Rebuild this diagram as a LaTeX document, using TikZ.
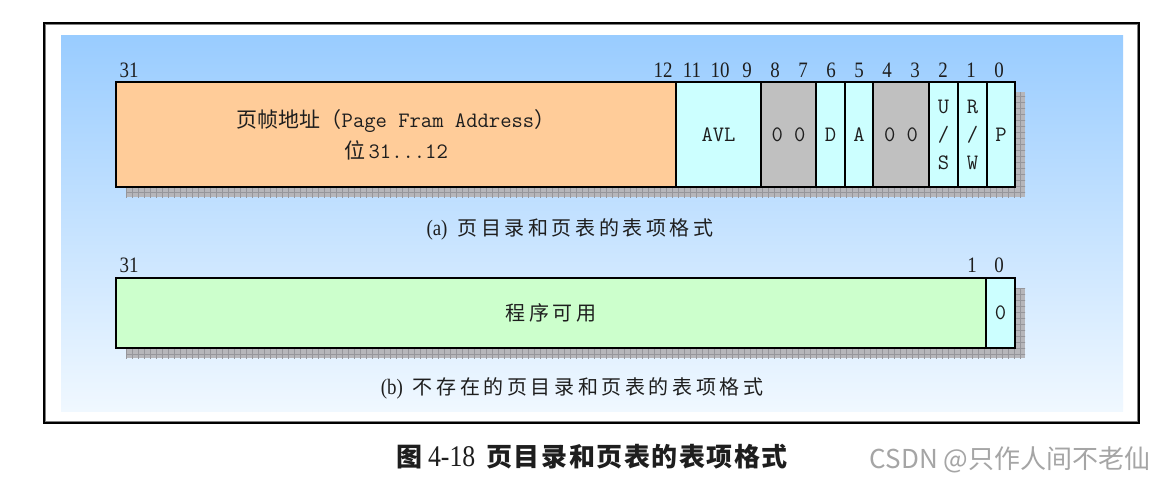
\documentclass[tikz,border=0pt]{standalone}
\usepackage{fontspec}
\newfontfamily\cjk{Noto Sans CJK SC}
\newfontfamily\cjkls[LetterSpace=18]{Noto Sans CJK SC}
\newfontfamily\cjktitle[LetterSpace=6]{Noto Sans CJK SC}
\newfontfamily\numfont[FakeStretch=0.86]{Liberation Serif}
\definecolor{bgtop}{RGB}{153,204,255}
\definecolor{bgbot}{RGB}{240,248,255}
\definecolor{orangecell}{RGB}{255,204,153}
\definecolor{cyancell}{RGB}{204,255,255}
\definecolor{graycell}{RGB}{192,192,192}
\definecolor{greencell}{RGB}{204,255,204}
\definecolor{shadowfill}{RGB}{182,182,186}
\definecolor{shadowline}{RGB}{150,150,155}
\definecolor{inktext}{RGB}{30,30,30}
\definecolor{wmark}{RGB}{165,165,165}
\tikzset{
  cellbase/.style={draw=black, line width=1.5pt, inner sep=0pt, outer sep=0pt, anchor=center, text=inktext},
  orangebox/.style={cellbase, fill=orangecell},
  cyanbox/.style={cellbase, fill=cyancell},
  graybox/.style={cellbase, fill=graycell},
  greenbox/.style={cellbase, fill=greencell},
  bitlabel/.style={inner sep=0pt, text=inktext, font=\fontsize{22}{22}\selectfont\numfont},
  celltext/.style={font=\fontsize{22}{28}\selectfont\ttfamily},
  captiontext/.style={inner sep=0pt, text=inktext, font=\fontsize{20}{20}\selectfont},
  shadowgrid/.style={draw=shadowline, line width=0.4pt},
}
\begin{document}
\begin{tikzpicture}[x=1pt,y=-1pt]
\useasboundingbox (0,0) rectangle (1168,483);
\fill[white] (0,0) rectangle (1168,483);
% outer frame
\draw[line width=1.2pt, gray] (45.5,24.5) rectangle (1137.5,421.5);
\draw[line width=2pt, black] (44,23) rectangle (1139,423);
% gradient background
\shade[top color=bgtop, bottom color=bgbot] (61,35) rectangle (1123,411);

% ---------- row (a) ----------
\fill[shadowfill] (126,92) rectangle (1025,197);
\begin{scope}
  \clip (126,92) rectangle (1025,197);
  \draw[shadowgrid, step=6pt] (120,86) grid (1030,200);
\end{scope}
\node[orangebox, minimum width=560pt, minimum height=105pt, align=center,
      font=\fontsize{21}{31}\selectfont] (pfa) at (396,134.5)
  {{\cjk 页帧地址（}{\fontsize{22}{31}\selectfont\ttfamily Page Fram Address}{\cjk ）}\\{\cjk 位}\,{\fontsize{22}{31}\selectfont\ttfamily 31...12}};
\node[cyanbox, minimum width=85pt, minimum height=105pt, celltext] (avl) at (718.5,134.5) {AVL};
\node[graybox, minimum width=55pt, minimum height=105pt, celltext] (r87) at (788.5,134.5) {0 0};
\node[cyanbox, minimum width=29pt, minimum height=105pt, celltext] (dbit) at (830.5,134.5) {D};
\node[cyanbox, minimum width=28pt, minimum height=105pt, celltext] (abit) at (859,134.5) {A};
\node[graybox, minimum width=56pt, minimum height=105pt, celltext] (r43) at (901,134.5) {0 0};
\node[cyanbox, minimum width=29pt, minimum height=105pt, celltext, align=center] (usbit) at (943.5,134.5) {U\\/\\S};
\node[cyanbox, minimum width=29pt, minimum height=105pt, celltext, align=center] (rwbit) at (972.5,134.5) {R\\/\\W};
\node[cyanbox, minimum width=28pt, minimum height=105pt, celltext] (pbit) at (1001,134.5) {P};

% bit numbers (a)
\node[bitlabel] (la31) at (129,70) {31};
\node[bitlabel] (la12) at (663,70) {12};
\node[bitlabel] (la11) at (692,70) {11};
\node[bitlabel] (la10) at (720,70) {10};
\node[bitlabel] (la9) at (747,70) {9};
\node[bitlabel] (la8) at (775,70) {8};
\node[bitlabel] (la7) at (803,70) {7};
\node[bitlabel] (la6) at (831,70) {6};
\node[bitlabel] (la5) at (859,70) {5};
\node[bitlabel] (la4) at (887,70) {4};
\node[bitlabel] (la3) at (915,70) {3};
\node[bitlabel] (la2) at (943,70) {2};
\node[bitlabel] (la1) at (971,70) {1};
\node[bitlabel] (la0) at (999,70) {0};

\node[captiontext] (capa) at (570,229) {{\fontsize{22}{22}\selectfont\numfont (a)}\hspace{10pt}{\cjkls 页目录和页表的表项格式}};

% ---------- row (b) ----------
\fill[shadowfill] (126,288) rectangle (1025,358);
\begin{scope}
  \clip (126,288) rectangle (1025,358);
  \draw[shadowgrid, step=6pt] (120,282) grid (1030,362);
\end{scope}
\node[greenbox, minimum width=870pt, minimum height=70pt,
      font=\fontsize{20}{20}\selectfont] (prog) at (551,313) {{\cjkls 程序可用}};
\node[cyanbox, minimum width=29pt, minimum height=70pt, celltext] (p0) at (1000.5,313) {0};

\node[bitlabel] (lb31) at (129,265) {31};
\node[bitlabel] (lb1) at (972,265) {1};
\node[bitlabel] (lb0) at (999,265) {0};

\node[captiontext] (capb) at (572,388) {{\fontsize{22}{22}\selectfont\numfont (b)}\hspace{10pt}{\cjkls 不存在的页目录和页表的表项格式}};

% ---------- title & watermark ----------
\node[inner sep=0pt, text=inktext, font=\fontsize{26}{26}\selectfont] (title) at (592,457)
  {{\cjk\bfseries 图}\hspace{6pt}{\fontsize{30}{30}\selectfont\numfont 4-18}\hspace{11pt}{\cjktitle\bfseries 页目录和页表的表项格式}};
\node[inner sep=0pt, text=wmark, font=\fontsize{26}{26}\selectfont] (wm) at (1010,460)
  {{\cjk CSDN @只作人间不老仙}};
\end{tikzpicture}
\end{document}
